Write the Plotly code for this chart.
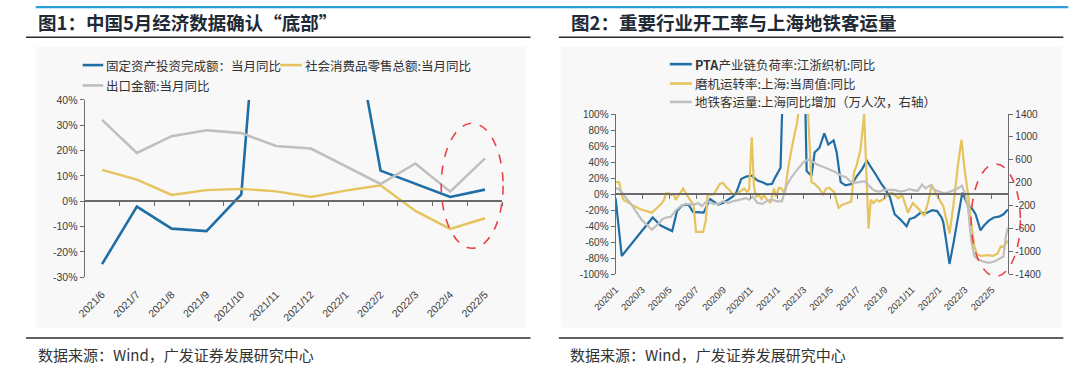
import pandas as pd
import plotly.graph_objects as go

# ---------------- Figure 1 data (monthly, %) ----------------
months = ["2021/6", "2021/7", "2021/8", "2021/9", "2021/10", "2021/11",
          "2021/12", "2022/1", "2022/2", "2022/3", "2022/4", "2022/5"]
fai_yoy = [-24.8, -2.1, -10.8, -11.8, 2.7, 173, 150, 87, 12.1, 6.8, 1.7, 4.6]
retail_yoy = [12.4, 8.5, 2.5, 4.4, 4.9, 3.9, 1.7, 4.2, 6.3, -3.8, -10.9, -6.7]
export_yoy = [32.1, 19.1, 25.7, 28.0, 26.9, 21.8, 20.8, 13.8, 6.8, 14.9, 3.8, 16.9]
fig1_ytickvals = [-30, -20, -10, 0, 10, 20, 30, 40]
fig1_yticktext = ["-30%", "-20%", "-10%", "0%", "10%", "20%", "30%", "40%"]

# ---------------- Figure 2 data (weekly, days since base date) ----------------
base_date = "2020-01-01"
fig2_x_end = "2022-06-07"
pta_days = [0, 14, 84, 102, 128, 139, 150, 165, 175, 199, 214, 232, 243, 265, 273,
            284, 295, 308, 321, 332, 343, 354, 361, 369, 373, 380, 395, 410, 425, 432,
            443, 450, 461, 472, 481, 493, 500, 509, 520, 535, 546, 557, 568, 579, 590,
            601, 609, 620, 631, 643, 658, 665, 676, 690, 701, 716, 727, 737, 741, 748,
            755, 764, 775, 784, 796, 807, 814, 825, 833, 844, 855, 867, 877, 887]
pta_yoy = [-5, -77, -29, -39, -46, -21, -14, -13, -22, -23, -6, -13, -11, -3, 2,
           19, 22, 23, 17, 15, 12, 13, 21, 29, 33, 170, 240, 260, 220, 29,
           23, 52, 58, 76, 62, 67, 52, 15, 11, 13, 23, 31, 42, 33, 23,
           13, 7, -3, -25, -31, -40, -31, -29, -23, -24, -20, -21, -29, -35, -60,
           -87, -61, -25, 2, -13, -19, -25, -45, -39, -33, -29, -28, -25, -19]
mill_days = [0, 8, 14, 18, 36, 58, 82, 91, 102, 110, 114, 121, 126, 132, 136, 143, 153,
             161, 169, 176, 182, 198, 204, 208, 222, 236, 243, 250, 258, 265, 273, 284,
             291, 297, 302, 308, 313, 318, 324, 330, 335, 343, 350, 358, 363, 369, 376,
             382, 391, 402, 410, 418, 427, 434, 443, 450, 461, 469, 476, 483, 494, 504,
             513, 524, 533, 539, 545, 554, 562, 572, 577, 583, 590, 597, 606, 616, 626,
             639, 648, 661, 672, 683, 698, 707, 715, 724, 733, 741, 755, 764, 774, 782,
             790, 797, 804, 811, 818, 829, 840, 853, 864, 871, 877, 887]
mill_yoy = [15, 15, -1, -7, -13, -19, -23, -19, -13, -7, 1, 1, -1, 0, -7, -1, 7,
            -1, -7, -13, -47, -47, -33, -1, 0, 13, 14, 9, 5, 0, 0, 5,
            7, 3, 6, 71, 9, -3, -1, -6, -1, -7, -11, 7, -3, 8, 7,
            0, 35, 68, 88, 120, 140, 115, 15, 13, 7, 0, 7, 8, 3, -17,
            -13, -11, -9, 27, 36, 56, 100, -43, -7, -11, -7, -9, -6, 0, 2,
            -5, -1, -23, -11, -17, -27, -9, 12, 1, -7, -15, -49, -13, 36, 68,
            27, 0, -35, -65, -76, -77, -76, -77, -74, -65, -66, -58]
metro_days = [0, 10, 21, 36, 58, 82, 95, 106, 114, 125, 136, 147, 158, 169, 178, 187,
              195, 202, 210, 221, 232, 243, 254, 265, 280, 295, 302, 310, 321, 332, 343,
              354, 365, 376, 387, 398, 409, 424, 435, 446, 458, 472, 487, 498, 509, 520,
              531, 542, 553, 564, 572, 579, 587, 597, 608, 620, 631, 643, 654, 665, 672,
              683, 693, 701, 712, 722, 731, 742, 753, 764, 774, 783, 790, 797, 804, 811,
              818, 829, 844, 858, 870, 877, 882, 887]
metro_diff = [113, 74, -40, -181, -436, -622, -532, -436, -407, -396, -283, -209, -170, -181, -181, -153,
              -209, -153, -124, -170, -170, -124, -153, -124, -96, -68, -96, -40, -153, -170, -113,
              -96, -124, -124, 158, 300, 413, 554, 611, 566, 509, 470, 413, 385, 328, 300,
              226, 198, 215, 226, 158, 102, 57, 45, 74, 74, 74, 45, 60, 90, 70,
              57, 170, 102, 158, 74, 45, 17, 34, 74, 102, 150, 17, -250, -800, -1080,
              -1130, -1171, -1199, -1171, -1115, -1087, -749, -580]
fig2_xtickdates = ["2020-01-01", "2020-03-01", "2020-05-01", "2020-07-01", "2020-09-01",
                   "2020-11-01", "2021-01-01", "2021-03-01", "2021-05-01", "2021-07-01",
                   "2021-09-01", "2021-11-01", "2022-01-01", "2022-03-01", "2022-05-01"]
fig2_xticktext = ["2020/1", "2020/3", "2020/5", "2020/7", "2020/9", "2020/11", "2021/1",
                  "2021/3", "2021/5", "2021/7", "2021/9", "2021/11", "2022/1", "2022/3", "2022/5"]
fig2_ytickvals = [-100, -80, -60, -40, -20, 0, 20, 40, 60, 80, 100]
fig2_yticktext = ["-100%", "-80%", "-60%", "-40%", "-20%", "0%", "20%", "40%", "60%", "80%", "100%"]
fig2_y2tickvals = [-1400, -1000, -600, -200, 200, 600, 1000, 1400]
fig2_y2ticktext = ["-1400", "-1000", "-600", "-200", "200", "600", "1000", "1400"]

# ---------------- styling ----------------
W, H = 1080, 386
BLUE, YELLOW, GRAY = "#1f6ea6", "#e6c35c", "#bfbfbf"
AXC = "#6b6b6b"
NUM = "Liberation Sans, Arial, sans-serif"
CJK = "Noto Sans CJK SC, sans-serif"
RED = "#e8414a"


def px(x):
    return x / W


def py(y):
    return 1 - y / H


base = pd.Timestamp(base_date)
pta_dates = base + pd.to_timedelta(pta_days, unit="D")
mill_dates = base + pd.to_timedelta(mill_days, unit="D")
metro_dates = base + pd.to_timedelta(metro_days, unit="D")

fig = go.Figure()

# Figure 1 traces
fig.add_trace(go.Scatter(x=months, y=fai_yoy, mode="lines", line=dict(color=BLUE, width=2.6),
                         xaxis="x", yaxis="y", showlegend=False, hoverinfo="skip"))
fig.add_trace(go.Scatter(x=months, y=retail_yoy, mode="lines", line=dict(color=YELLOW, width=2.4),
                         xaxis="x", yaxis="y", showlegend=False, hoverinfo="skip"))
fig.add_trace(go.Scatter(x=months, y=export_yoy, mode="lines", line=dict(color=GRAY, width=2.6),
                         xaxis="x", yaxis="y", showlegend=False, hoverinfo="skip"))
# helper trace for zero-line tick axis
fig.add_trace(go.Scatter(x=months, y=export_yoy, mode="none", xaxis="x3", yaxis="y",
                         showlegend=False, hoverinfo="skip"))

# Figure 2 traces
fig.add_trace(go.Scatter(x=pta_dates, y=pta_yoy, mode="lines", line=dict(color=BLUE, width=2.2),
                         xaxis="x2", yaxis="y2", showlegend=False, hoverinfo="skip"))
fig.add_trace(go.Scatter(x=mill_dates, y=mill_yoy, mode="lines", line=dict(color=YELLOW, width=2.2),
                         xaxis="x2", yaxis="y2", showlegend=False, hoverinfo="skip"))
fig.add_trace(go.Scatter(x=metro_dates, y=metro_diff, mode="lines", line=dict(color=GRAY, width=2.2),
                         xaxis="x2", yaxis="y4", showlegend=False, hoverinfo="skip"))
fig.add_trace(go.Scatter(x=mill_dates, y=mill_yoy, mode="none", xaxis="x4", yaxis="y2",
                         showlegend=False, hoverinfo="skip"))

tickfont_l = dict(family=NUM, size=10.5, color="#3a3a3a")

fig.update_layout(
    width=W, height=H, margin=dict(l=0, r=0, t=0, b=0, pad=0),
    paper_bgcolor="white", plot_bgcolor="rgba(0,0,0,0)",
    showlegend=False,
    # ---- figure 1 axes
    xaxis=dict(domain=[px(62), px(489.3)], anchor="y", type="category",
               categoryorder="array", categoryarray=months, range=[-0.5, 11.5],
               tickangle=-45, ticks="", showline=False, showgrid=False, zeroline=False,
               tickfont=dict(family=NUM, size=10.5, color="#3a3a3a"), ticklabelstandoff=8),
    yaxis=dict(domain=[py(280), py(96.9)], anchor="x", range=[-30, 40],
               tickvals=fig1_ytickvals, ticktext=fig1_yticktext,
               ticks="outside", ticklen=4, tickcolor=AXC, showline=True, linecolor=AXC,
               linewidth=1, showgrid=False, zeroline=False, tickfont=tickfont_l),
    xaxis3=dict(overlaying="x", anchor="free", position=py(201.7), type="category",
                categoryorder="array", categoryarray=months, range=[-0.5, 11.5],
                tickson="boundaries", ticks="outside", ticklen=4, tickcolor=AXC,
                showticklabels=False, showline=True, linecolor=AXC, linewidth=1.5,
                showgrid=False, zeroline=False),
    # ---- figure 2 axes
    xaxis2=dict(domain=[px(605), px(1006.7)], anchor="y2", type="date",
                range=[base_date, fig2_x_end], tickvals=fig2_xtickdates, ticktext=fig2_xticktext,
                tickangle=-45, ticks="", showline=False, showgrid=False, zeroline=False,
                tickfont=dict(family=NUM, size=9.5, color="#3a3a3a"), ticklabelstandoff=7),
    yaxis2=dict(domain=[py(277), py(111.5)], anchor="x2", range=[-100, 100],
                tickvals=fig2_ytickvals, ticktext=fig2_yticktext,
                ticks="outside", ticklen=4, tickcolor=AXC, showline=True, linecolor=AXC,
                linewidth=1, showgrid=False, zeroline=False,
                tickfont=dict(family=NUM, size=10, color="#3a3a3a")),
    yaxis4=dict(overlaying="y2", side="right", anchor="x2", range=[-1400, 1400],
                tickvals=fig2_y2tickvals, ticktext=fig2_y2ticktext,
                ticks="outside", ticklen=4, tickcolor=AXC, showline=True, linecolor=AXC,
                linewidth=1, showgrid=False, zeroline=False,
                tickfont=dict(family=NUM, size=10, color="#3a3a3a")),
    xaxis4=dict(overlaying="x2", anchor="free", position=py(194.3), type="date",
                range=[base_date, fig2_x_end], tickvals=fig2_xtickdates,
                ticks="outside", ticklen=4, tickcolor=AXC, showticklabels=False,
                showline=True, linecolor=AXC, linewidth=1.5, showgrid=False, zeroline=False),
)

shapes = []
# chart background panels
for x0, x1 in [(12, 513), (549, 1061)]:
    shapes.append(dict(type="rect", xref="paper", yref="paper", x0=px(x0), x1=px(x1),
                       y0=py(332), y1=py(42), fillcolor="#f8f8f8", line=dict(width=0), layer="below"))
# top accent line
shapes.append(dict(type="line", xref="paper", yref="paper", x0=px(12), x1=px(1068),
                   y0=py(1.2), y1=py(1.2), line=dict(color="#2a9fd8", width=2.4)))
# title underlines and source lines
for (x0, x1) in [(2, 518), (547, 1063)]:
    for yy in (32.3, 342.7):
        shapes.append(dict(type="line", xref="paper", yref="paper", x0=px(x0), x1=px(x1),
                           y0=py(yy), y1=py(yy), line=dict(color="#2b2b2b", width=1.5)))
# legend keys
legend_keys = [(60, 81, 61, BLUE), (262, 284, 61, YELLOW), (60, 81, 82, GRAY),
               (660.5, 683, 60, BLUE), (660.5, 683, 80, YELLOW), (660.5, 683, 99, GRAY)]
for x0, x1, yy, c in legend_keys:
    shapes.append(dict(type="line", xref="paper", yref="paper", x0=px(x0), x1=px(x1),
                       y0=py(yy), y1=py(yy), line=dict(color=c, width=2.6)))
# red dashed ellipses
for x0, x1, y0, y1 in [(426.7, 490, 250, 121), (968.7, 1019, 279, 163)]:
    shapes.append(dict(type="circle", xref="paper", yref="paper", x0=px(x0), x1=px(x1),
                       y0=py(y0), y1=py(y1), line=dict(color=RED, width=1.6, dash="dash")))
fig.update_layout(shapes=shapes)

ann = []
title_font = dict(family=CJK, size=18.5, color="#1f2a36", weight=700)
ann.append(dict(text="图1：中国5月经济数据确认“底部”", x=px(12), y=py(16), font=title_font))
ann.append(dict(text="图2：重要行业开工率与上海地铁客运量", x=px(557), y=py(16), font=title_font))
leg_font = dict(family=CJK, size=12.5, color="#333333")
ann.append(dict(text="固定资产投资完成额：当月同比", x=px(82), y=py(61), font=leg_font))
ann.append(dict(text="社会消费品零售总额:当月同比", x=px(285), y=py(61), font=leg_font))
ann.append(dict(text="出口金额:当月同比", x=px(82), y=py(82), font=leg_font))
ann.append(dict(text="<b>PTA</b>产业链负荷率:江浙织机:同比", x=px(684), y=py(60), font=leg_font))
ann.append(dict(text="磨机运转率:上海:当周值:同比", x=px(684), y=py(80), font=leg_font))
ann.append(dict(text="地铁客运量:上海同比增加（万人次，右轴）", x=px(684), y=py(99), font=leg_font))
src_font = dict(family=CJK, size=15, color="#333333")
ann.append(dict(text="数据来源：Wind，广发证券发展研究中心", x=px(12), y=py(360), font=src_font))
ann.append(dict(text="数据来源：Wind，广发证券发展研究中心", x=px(556), y=py(360), font=src_font))
for a in ann:
    a.update(xref="paper", yref="paper", xanchor="left", yanchor="middle", showarrow=False)
fig.update_layout(annotations=ann)

fig.write_html("out.html", config={"displayModeBar": False},
               post_script="document.body.style.margin='0';")
